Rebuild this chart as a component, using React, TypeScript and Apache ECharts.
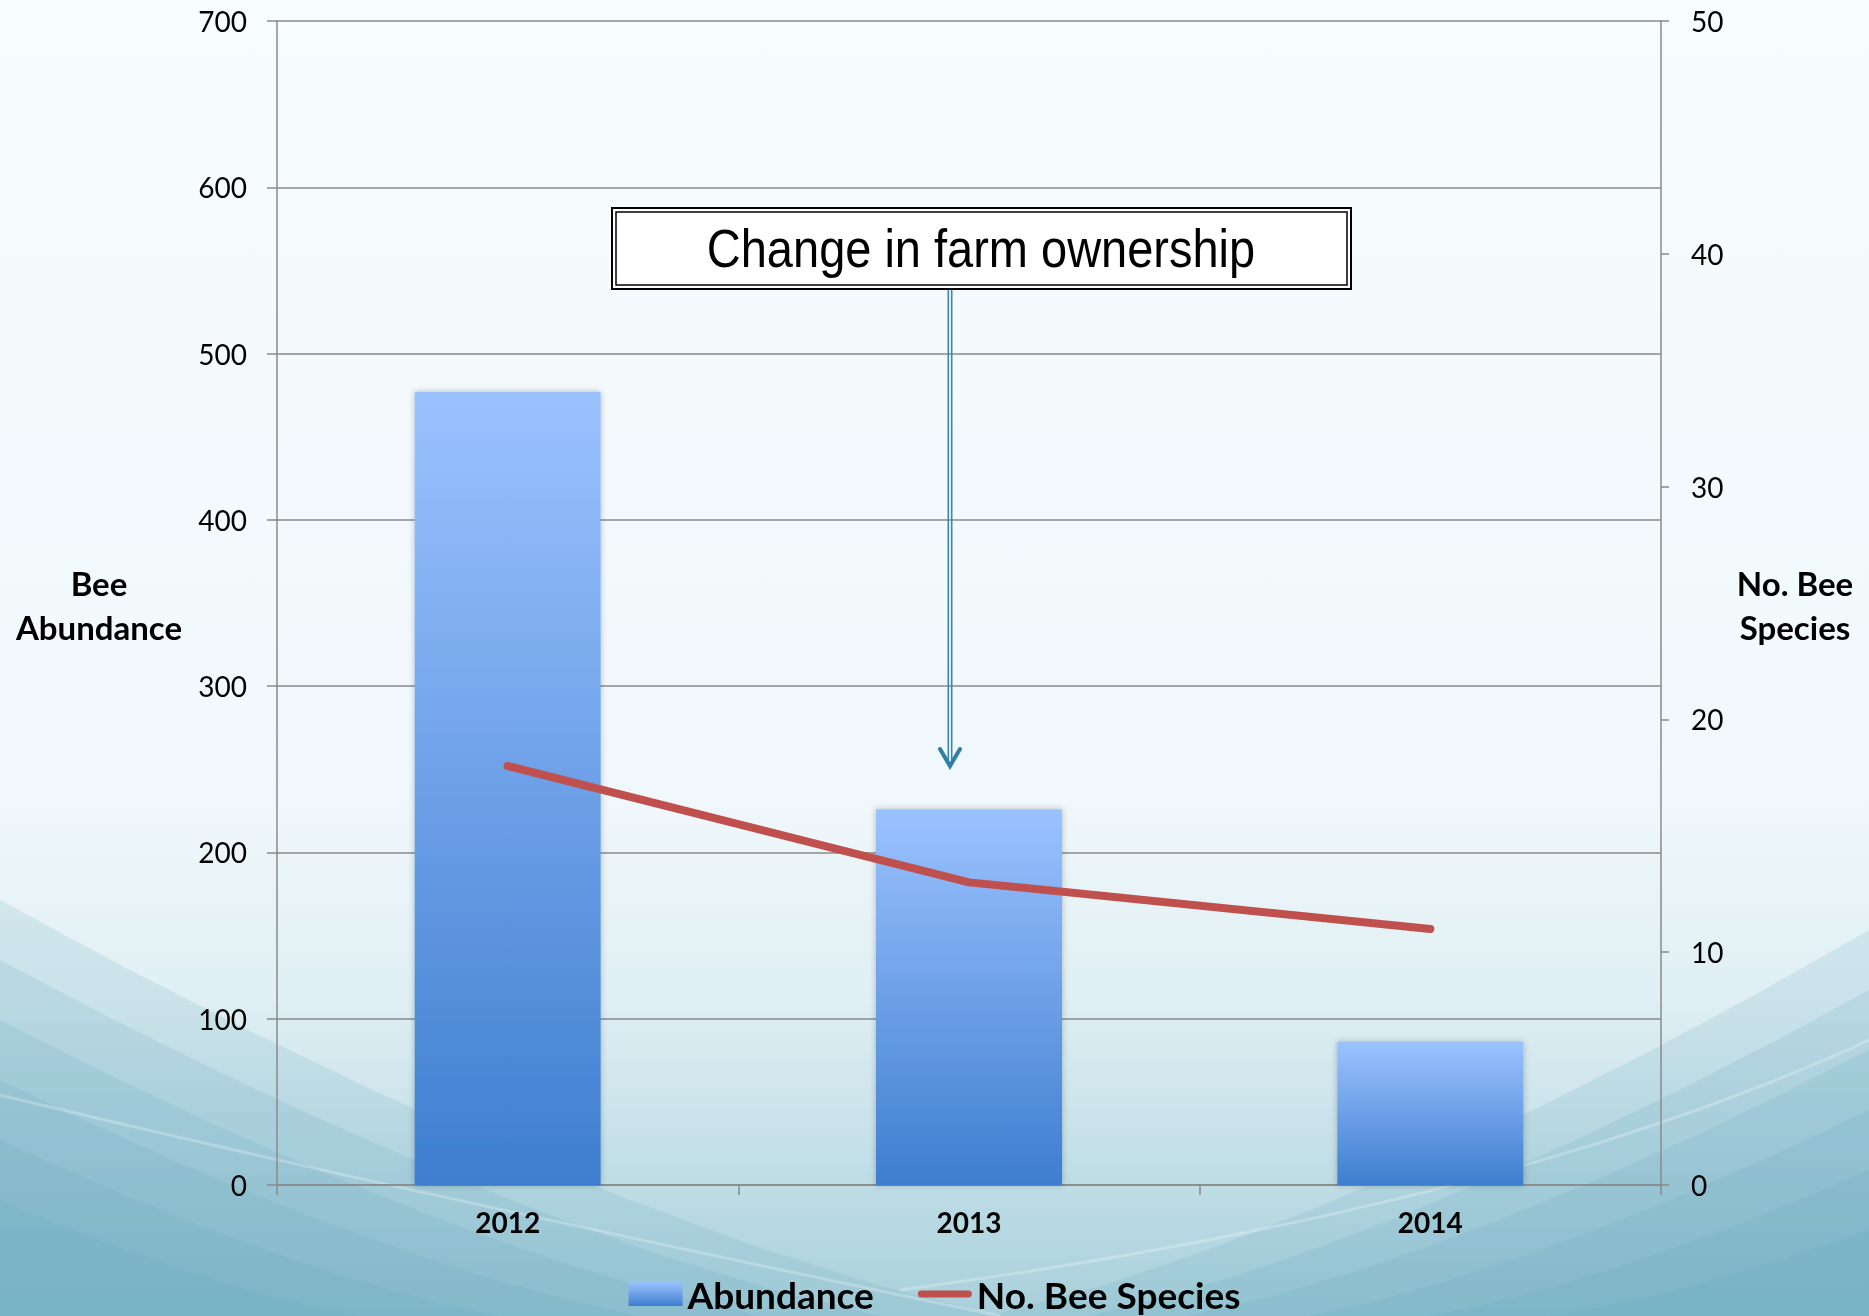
import React, { useEffect, useRef } from "react";
import * as echarts from "echarts";

const years = ["2012", "2013", "2014"];
const abundance = [477, 226, 86];
const species = [18, 13, 11];
const leftTicks = { min: 0, max: 700, interval: 100 };
const rightTicks = { min: 0, max: 50, interval: 10 };
const annotationText = "Change in farm ownership";
const leftName = "Bee\nAbundance";
const rightName = "No. Bee\nSpecies";

function cornerLayers(side: "left" | "right") {
  const W = 1869;
  const H = 1316;
  const layers: any[] = [];
  const starts = side === "left" ? [900, 960, 1020, 1080, 1140, 1200] : [930, 990, 1050, 1110, 1170, 1230];
  const ends = side === "left" ? [1000, 880, 760, 640, 500, 360] : [880, 780, 680, 560, 440, 320];
  for (let i = 0; i < starts.length; i++) {
    const y0 = starts[i];
    const len = ends[i];
    const pts: number[][] = [];
    const steps = 8;
    for (let s = 0; s <= steps; s++) {
      const t = s / steps;
      const dx = len * t;
      // concave curve: drops fast near edge, flattens toward bottom
      const y = y0 + (H - y0) * (1 - Math.pow(1 - t, 1.6)) * 0.55 + (H - y0) * t * 0.45;
      pts.push([side === "left" ? dx : W - dx, y]);
    }
    pts.push([side === "left" ? 0 : W, H]);
    layers.push({
      type: "polygon",
      z: -99,
      shape: { points: pts },
      style: { fill: "rgba(98,166,187,0.17)" },
    });
  }
  return layers;
}

export default function App() {
  const ref = useRef<HTMLDivElement>(null);
  useEffect(() => {
    if (!ref.current) return;
    const chart = echarts.init(ref.current, null, { renderer: "svg" });
    const axisGray = "#8a8a8a";
    const labelFont = "Lato, 'Noto Sans', sans-serif";
    const option: any = {
      animation: false,
      backgroundColor: "transparent",
      grid: { left: 277, right: 208, top: 21, bottom: 131, containLabel: false },
      legend: {
        top: 1270,
        left: "center",
        itemWidth: 54,
        itemHeight: 24,
        itemGap: 44,
        textStyle: { fontSize: 37, lineHeight: 38, fontWeight: "bold", color: "#000", fontFamily: labelFont },
        data: [
          { name: "Abundance", icon: "rect" },
          { name: "No. Bee Species", icon: "path://M4,0 L58,0 A4,4 0 0 1 58,8 L4,8 A4,4 0 0 1 4,0 Z" },
        ],
      },
      xAxis: {
        type: "category",
        data: years,
        boundaryGap: true,
        axisLine: { show: true, lineStyle: { color: axisGray, width: 1.5 } },
        axisTick: { show: true, length: 10, alignWithLabel: false, interval: 0, lineStyle: { color: axisGray, width: 1.5 } },
        axisLabel: { fontSize: 28, fontWeight: "bold", color: "#000", margin: 23, fontFamily: labelFont },
        splitLine: { show: false },
      },
      yAxis: [
        {
          type: "value",
          min: leftTicks.min,
          max: leftTicks.max,
          interval: leftTicks.interval,
          axisLine: { show: true, lineStyle: { color: axisGray, width: 1.5 } },
          axisTick: { show: true, length: 10, lineStyle: { color: axisGray, width: 1.5 } },
          axisLabel: { fontSize: 28, color: "#000", margin: 30, fontFamily: labelFont },
          splitLine: { show: true, lineStyle: { color: axisGray, width: 1.5 } },
        },
        {
          type: "value",
          position: "right",
          min: rightTicks.min,
          max: rightTicks.max,
          interval: rightTicks.interval,
          axisLine: { show: true, lineStyle: { color: axisGray, width: 1.5 } },
          axisTick: { show: true, length: 8, lineStyle: { color: axisGray, width: 1.5 } },
          axisLabel: { fontSize: 28, color: "#000", margin: 30, fontFamily: labelFont },
          splitLine: { show: false },
        },
      ],
      series: [
        {
          name: "Abundance",
          type: "bar",
          data: abundance,
          barWidth: 186,
          itemStyle: {
            color: new echarts.graphic.LinearGradient(0, 0, 0, 1, [
              { offset: 0, color: "#9BC2FF" },
              { offset: 1, color: "#3E7ECF" },
            ]),
            shadowBlur: 6,
            shadowColor: "rgba(0,0,0,0.25)",
          },
          z: 2,
        },
        {
          name: "No. Bee Species",
          type: "line",
          yAxisIndex: 1,
          data: species,
          symbol: "none",
          lineStyle: { width: 8, color: "#C0504D", cap: "round", join: "round" },
          itemStyle: { color: "#C0504D" },
          z: 3,
        },
      ],
      graphic: [
        {
          type: "group",
          z: -100,
          children: [
            {
              type: "rect",
              z: -100,
              shape: { x: 0, y: 0, width: 1869, height: 1316 },
              style: {
                fill: new echarts.graphic.LinearGradient(0, 0, 0, 1, [
                  { offset: 0, color: "#F7FCFE" },
                  { offset: 0.6, color: "#F1F8FB" },
                  { offset: 0.76, color: "#DFEFF3" },
                  { offset: 0.88, color: "#C3DFE7" },
                  { offset: 1, color: "#A8D0DB" },
                ]),
              },
            },
            ...cornerLayers("left"),
            ...cornerLayers("right"),
            {
              type: "bezierCurve",
              z: -98,
              shape: { x1: 0, y1: 1095, cpx1: 350, cpy1: 1180, x2: 1000, y2: 1316 },
              style: { stroke: "rgba(255,255,255,0.25)", lineWidth: 3, fill: "none" },
            },
            {
              type: "bezierCurve",
              z: -98,
              shape: { x1: 1869, y1: 1040, cpx1: 1500, cpy1: 1210, x2: 900, y2: 1290 },
              style: { stroke: "rgba(255,255,255,0.25)", lineWidth: 3, fill: "none" },
            },
          ],
        },
        {
          type: "text",
          z: 50,
          x: 99,
          y: 605,
          style: {
            text: leftName,
            fontSize: 33,
            fontWeight: "bold",
            fontFamily: labelFont,
            fill: "#000",
            textAlign: "center",
            textVerticalAlign: "middle",
            lineHeight: 44,
          },
        },
        {
          type: "text",
          z: 50,
          x: 1795,
          y: 605,
          style: {
            text: rightName,
            fontSize: 33,
            fontWeight: "bold",
            fontFamily: labelFont,
            fill: "#000",
            textAlign: "center",
            textVerticalAlign: "middle",
            lineHeight: 44,
          },
        },
        {
          type: "rect",
          z: 50,
          shape: { x: 612, y: 208, width: 739, height: 81 },
          style: { fill: "#ffffff", stroke: "#000", lineWidth: 2 },
        },
        {
          type: "rect",
          z: 51,
          shape: { x: 616, y: 212, width: 731, height: 73 },
          style: { fill: "none", stroke: "#000", lineWidth: 1.5 },
        },
        {
          type: "text",
          z: 52,
          x: 981,
          y: 248,
          scaleX: 0.87,
          style: {
            text: annotationText,
            fontSize: 54,
            fontFamily: "'Liberation Sans', Arial, sans-serif",
            fill: "#000",
            textAlign: "center",
            textVerticalAlign: "middle",
          },
        },
        {
          type: "line",
          z: 50,
          shape: { x1: 948.3, y1: 290, x2: 948.3, y2: 762 },
          style: { stroke: "#3A86AC", lineWidth: 1.6 },
        },
        {
          type: "line",
          z: 50,
          shape: { x1: 951.7, y1: 290, x2: 951.7, y2: 762 },
          style: { stroke: "#3A86AC", lineWidth: 1.6 },
        },
        {
          type: "polyline",
          z: 50,
          shape: { points: [[940, 749], [950, 766], [960, 749]] },
          style: { stroke: "#2F7FA5", lineWidth: 4, fill: "none", lineCap: "round", lineJoin: "miter" },
        },
      ],
    };
    chart.setOption(option);
    return () => chart.dispose();
  }, []);
  return (
    <div
      ref={ref}
      style={{ position: "fixed", left: 0, top: 0, width: 1869, height: 1316 }}
    />
  );
}
